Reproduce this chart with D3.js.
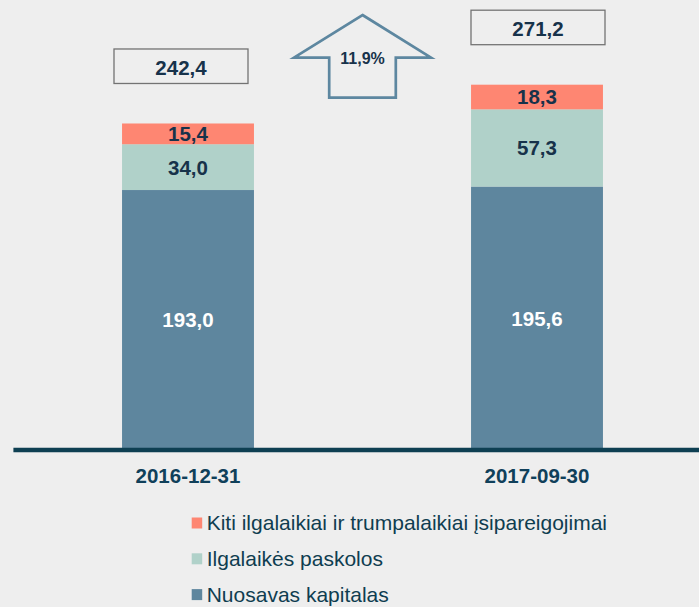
<!DOCTYPE html>
<html>
<head>
    <meta charset="utf-8">
    <script src="https://d3js.org/d3.v7.min.js"></script>
    <style>
        html, body { margin: 0; padding: 0; background: #eeeeee; }
        svg { display: block; font-family: Arial, "Liberation Sans", sans-serif; }
    </style>
</head>

<body>
    <div id="app"></div>
</body>

<script>
    // 資料
    const categories = ["2016-12-31", "2017-09-30"];
    const seriesNames = ["Nuosavas kapitalas", "Ilgalaikės paskolos", "Kiti ilgalaikiai ir trumpalaikiai įsipareigojimai"];
    const equity = [193.0, 195.6];
    const longLoans = [34.0, 57.3];
    const otherLiab = [15.4, 18.3];
    const totals = [242.4, 271.2];
    const growthLabel = "11,9%";

    const colors = ["#5e869e", "#b0d1c9", "#fe8672"];
    const textDark = "#17324a";
    const axisColor = "#0e3f52";

    const W = 699, H = 607;
    const fmt = d3.formatLocale({ decimal: ",", thousands: " ", grouping: [3], currency: ["", ""] }).format(".1f");

    const rows = categories.map((c, i) => ({ cat: c, s0: equity[i], s1: longLoans[i], s2: otherLiab[i] }));
    const stacked = d3.stack().keys(["s0", "s1", "s2"])(rows);

    const svg = d3.select("#app")
        .append("svg")
        .attr("width", W)
        .attr("height", H);

    const x = d3.scaleBand()
        .domain(categories)
        .range([13.5, 711.5])
        .paddingInner(0.622)
        .paddingOuter(0.311);

    const y = d3.scaleLinear()
        .domain([0, 300])
        .range([450, 45.9]);

    // 堆疊長條
    const layer = svg.selectAll("g.layer")
        .data(stacked)
        .enter()
        .append("g")
        .attr("class", "layer")
        .attr("fill", (d, i) => colors[i]);

    layer.selectAll("rect")
        .data(d => d)
        .enter()
        .append("rect")
        .attr("x", d => x(d.data.cat))
        .attr("y", d => y(d[1]))
        .attr("width", x.bandwidth())
        .attr("height", d => y(d[0]) - y(d[1]));

    // 數值標籤
    layer.selectAll("text")
        .data(d => d.map(v => ({ v: v, key: d.key })))
        .enter()
        .append("text")
        .attr("x", d => x(d.v.data.cat) + x.bandwidth() / 2)
        .attr("y", d => (y(d.v[0]) + y(d.v[1])) / 2)
        .attr("dy", "0.36em")
        .attr("text-anchor", "middle")
        .attr("font-size", 20.5)
        .attr("font-weight", "bold")
        .attr("fill", d => d.key === "s0" ? "#ffffff" : textDark)
        .text(d => fmt(d.v[1] - d.v[0]));

    // X 軸線
    svg.append("line")
        .attr("x1", 13.4)
        .attr("x2", W)
        .attr("y1", y(0))
        .attr("y2", y(0))
        .attr("stroke", axisColor)
        .attr("stroke-width", 4.6);

    svg.selectAll("text.cat")
        .data(categories)
        .enter()
        .append("text")
        .attr("class", "cat")
        .attr("x", d => x(d) + x.bandwidth() / 2)
        .attr("y", 483)
        .attr("text-anchor", "middle")
        .attr("font-size", 20.5)
        .attr("font-weight", "bold")
        .attr("fill", "#10405a")
        .text(d => d);

    // 總計方框
    const boxShift = [-7, 1];
    const boxW = 134, boxH = 34.5;
    const box = svg.selectAll("g.total")
        .data(totals)
        .enter()
        .append("g")
        .attr("class", "total")
        .attr("transform", (d, i) => "translate(" + (x(categories[i]) + x.bandwidth() / 2 + boxShift[i]) + "," + (y(d) - 40 - boxH / 2) + ")");

    box.append("rect")
        .attr("x", -boxW / 2)
        .attr("y", -boxH / 2)
        .attr("width", boxW)
        .attr("height", boxH)
        .attr("fill", "#eeeeee")
        .attr("stroke", "#737373")
        .attr("stroke-width", 1.3);

    box.append("text")
        .attr("y", 1.5)
        .attr("dy", "0.36em")
        .attr("text-anchor", "middle")
        .attr("font-size", 20.5)
        .attr("font-weight", "bold")
        .attr("fill", textDark)
        .text(d => fmt(d));

    // 成長箭頭
    const cx = (x(categories[0]) + x(categories[1]) + x.bandwidth()) / 2;
    const arrow = svg.append("g").attr("transform", "translate(" + cx + ",0)");
    arrow.append("path")
        .attr("d", d3.line()([[0, 15], [68.5, 57.7], [33.3, 57.7], [33.3, 97.7], [-33.3, 97.7], [-33.3, 57.7], [-68.5, 57.7]]) + "Z")
        .attr("fill", "none")
        .attr("stroke", "#5d87a0")
        .attr("stroke-width", 2.7)
        .attr("stroke-linejoin", "miter");

    arrow.append("text")
        .attr("y", 64.3)
        .attr("text-anchor", "middle")
        .attr("font-size", 16)
        .attr("font-weight", "bold")
        .attr("fill", textDark)
        .text(growthLabel);

    // 圖例
    const legendOrder = [2, 1, 0];
    const legend = svg.selectAll("g.legend")
        .data(legendOrder)
        .enter()
        .append("g")
        .attr("class", "legend")
        .attr("transform", (d, i) => "translate(191.7," + (530 + i * 35.8) + ")");

    legend.append("rect")
        .attr("x", 0)
        .attr("y", -12.5)
        .attr("width", 10.5)
        .attr("height", 11)
        .attr("fill", d => colors[d]);

    legend.append("text")
        .attr("x", 15)
        .attr("y", 0)
        .attr("font-size", 21)
        .attr("fill", "#0f3d50")
        .text(d => seriesNames[d]);
</script>
</html>
